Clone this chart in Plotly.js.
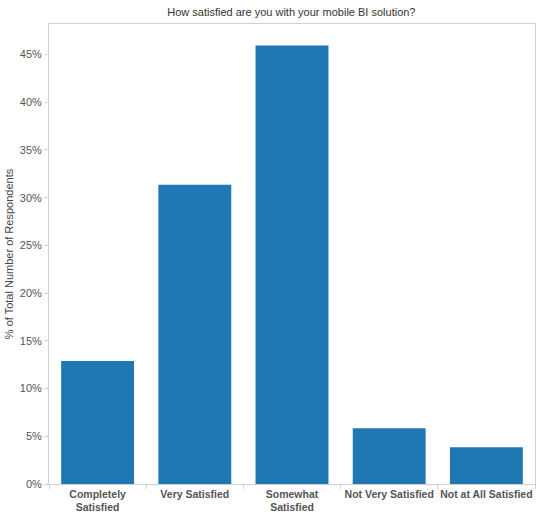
<!DOCTYPE html>
<html>
<head>
<meta charset="utf-8">
<script src="https://cdn.plot.ly/plotly-3.0.1.min.js"></script>
<style>html,body{margin:0;padding:0;background:#fff;}#chart{width:555px;height:520px;}</style>
</head>
<body>
<div id="chart"></div>
<script>
const categories = ["Completely<br>Satisfied", "Very Satisfied", "Somewhat<br>Satisfied", "Not Very Satisfied", "Not at All Satisfied"];
const percentValues = [12.9, 31.35, 45.95, 5.85, 3.85];
const yTickValues = [0, 5, 10, 15, 20, 25, 30, 35, 40, 45];
const yTickLabels = ["0%", "5%", "10%", "15%", "20%", "25%", "30%", "35%", "40%", "45%"];

const font = "Arial, 'Liberation Sans', sans-serif";

Plotly.newPlot("chart", [{
  type: "bar",
  x: categories,
  y: percentValues,
  marker: {color: "#1f77b4"},
  hoverinfo: "skip"
}], {
  width: 555, height: 520,
  margin: {l: 49, r: 20, t: 24, b: 36},
  paper_bgcolor: "#fff",
  plot_bgcolor: "#fff",
  bargap: 0.25,
  showlegend: false,
  title: {
    text: "How satisfied are you with your mobile BI solution?",
    font: {family: font, size: 11, color: "#333"},
    x: 0.525, xanchor: "center",
    yref: "container", y: 0.977, yanchor: "middle"
  },
  xaxis: {
    type: "category",
    tickson: "boundaries",
    tickangle: 0,
    ticks: "outside", ticklen: 4, tickcolor: "#d0d0d0",
    showline: true, linecolor: "#d0d0d0", linewidth: 1,
    mirror: true,
    showgrid: false,
    tickfont: {family: font, size: 10.5, color: "#555", weight: "bold"},
    fixedrange: true
  },
  yaxis: {
    range: [0, 48.2],
    tickvals: yTickValues,
    ticktext: yTickLabels,
    ticks: "outside", ticklen: 4, tickcolor: "#d0d0d0",
    showline: true, linecolor: "#d0d0d0", linewidth: 1,
    mirror: true,
    showgrid: false,
    zeroline: false,
    tickfont: {family: font, size: 11, color: "#555"},
    title: {text: "% of Total Number of Respondents", font: {family: font, size: 11, color: "#444"}, standoff: 3},
    fixedrange: true
  }
}, {displayModeBar: false, staticPlot: true});
</script>
</body>
</html>
